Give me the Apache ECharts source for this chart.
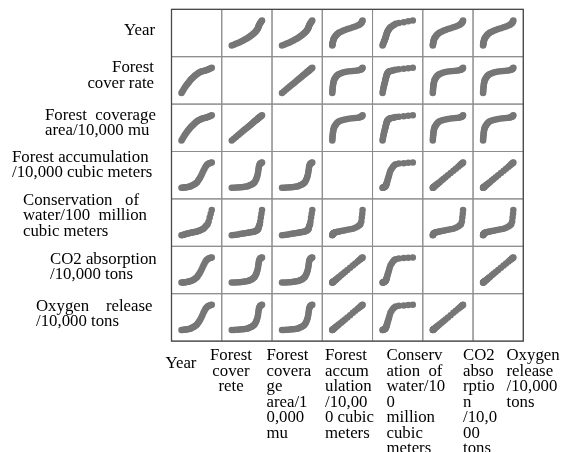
<!DOCTYPE html>
<html><head><meta charset="utf-8">
<script src="https://cdn.jsdelivr.net/npm/echarts@6/dist/echarts.min.js"></script>
<style>html,body{margin:0;padding:0;background:#fff}#c{width:569px;height:452px}</style>
</head><body><div id="c"></div>
<script>
const years = [1990,1991,1992,1993,1994,1995,1996,1997,1998,1999,2000,2001,2002,2003,2004,2005,2006,2007,2008,2009,2010,2011,2012,2013,2014,2015,2016,2017,2018,2019];
const forestCoverRate = [22.00,22.63,23.24,23.85,24.39,24.91,25.42,25.87,26.37,26.82,27.18,27.54,27.90,28.21,28.53,28.80,29.07,29.29,29.47,29.65,29.79,29.89,29.97,30.05,30.19,30.33,30.46,30.64,30.82,31.00];
const forestArea = [1100.0,1131.5,1162.0,1192.5,1219.5,1245.5,1271.0,1293.5,1318.5,1341.0,1359.0,1377.0,1395.0,1410.5,1426.5,1440.0,1453.5,1464.5,1473.5,1482.5,1489.5,1494.5,1498.5,1502.5,1509.5,1516.5,1523.0,1532.0,1541.0,1550.0];
const forestAccumulation = [8000,8024,8048,8078,8114,8150,8180,8240,8300,8378,8522,8642,8768,8930,9140,9350,9740,10100,10520,11000,11540,12080,12560,13040,13370,13580,13760,13850,13940,14000];
const waterConservation = [20.0,20.3,20.63,20.93,21.29,21.62,22.01,22.31,22.64,22.94,23.18,23.42,23.69,23.96,24.23,24.47,24.89,25.34,25.88,26.45,27.05,27.8,29.0,30.35,31.7,33.05,36.2,41.0,45.5,50.0];
const co2Absorption = [13040,13079,13118,13167,13226,13285,13333,13431,13529,13656,13891,14086,14292,14556,14898,15241,15876,16463,17148,17930,18810,19690,20473,21255,21793,22135,22429,22576,22722,22820];
const oxygenRelease = [9520,9549,9577,9613,9656,9699,9734,9806,9877,9970,10141,10284,10434,10627,10877,11127,11591,12019,12519,13090,13733,14375,14946,15518,15910,16160,16374,16482,16589,16660];

const rowLabels = ["Year","Forest\ncover rate","Forest  coverage\narea/10,000 mu","Forest accumulation\n/10,000 cubic meters","Conservation   of\nwater/100  million\ncubic meters","CO2 absorption\n/10,000 tons","Oxygen    release\n/10,000 tons"];
const colLabels = ["Year","Forest\ncover\nrete","Forest\ncovera\nge\narea/1\n0,000\nmu","Forest\naccum\nulation\n/10,00\n0 cubic\nmeters","Conserv\nation  of\nwater/10\n0\nmillion\ncubic\nmeters","CO2\nabso\nrptio\nn\n/10,0\n00\ntons","Oxygen\nrelease\n/10,000\ntons"];

const vars = [years, forestCoverRate, forestArea, forestAccumulation, waterConservation, co2Absorption, oxygenRelease];
const n = vars.length;
const L0 = 171.5, T0 = 9.3, CW = 50.26, CH = 47.4;
const FONT = '16.8px "Liberation Serif", "Times New Roman", serif';

function ext(a, p) { const mn = Math.min(...a), mx = Math.max(...a), r = mx - mn; return [mn - p * r, mx + p * r]; }

const grid = [], xAxis = [], yAxis = [], series = [];
for (let i = 0; i < n; i++) {
  for (let j = 0; j < n; j++) {
    const k = grid.length;
    grid.push({ left: L0 + j * CW, top: T0 + i * CH, width: CW, height: CH, show: true, borderColor: '#8c8c8c', borderWidth: 1, backgroundColor: 'transparent' });
    const ex = ext(vars[j], 0.33), ey = ext(vars[i], 0.44);
    xAxis.push({ gridIndex: k, type: 'value', min: ex[0], max: ex[1], show: false });
    yAxis.push({ gridIndex: k, type: 'value', min: ey[0], max: ey[1], show: false });
    if (i !== j) {
      series.push({ type: 'scatter', xAxisIndex: k, yAxisIndex: k, symbolSize: 6.5, silent: true,
        itemStyle: { color: '#767676', opacity: 1 },
        data: vars[j].map((v, t) => [v, vars[i][t]]) });
    }
  }
}
// outer frame
const kf = grid.length;
grid.push({ left: L0, top: T0, width: CW * n, height: CH * n, show: true, borderColor: '#4a4a4a', borderWidth: 1.3, backgroundColor: 'transparent' });
xAxis.push({ gridIndex: kf, type: 'value', show: false });
yAxis.push({ gridIndex: kf, type: 'value', show: false });

const rowLabelPos = [[155,'right',31],[154,'right',75.5],[45,'left',123],[12,'left',165],[23,'left',216],[50,'left',267],[36,'left',314]];
const colLabelPos = [[181,'center',356],[231,'center',348],[266.5,'left',348],[325,'left',348],[386.5,'left',348],[463,'left',348],[506.5,'left',348]];
const graphic = [];
rowLabels.forEach((s, i) => {
  const p = rowLabelPos[i];
  graphic.push({ type: 'text', x: p[0], y: p[2], silent: true, style: { text: s, font: FONT, fill: '#000', align: p[1], verticalAlign: 'middle', lineHeight: 15.5 } });
});
colLabels.forEach((s, j) => {
  const p = colLabelPos[j];
  graphic.push({ type: 'text', x: p[0], y: p[2], silent: true, style: { text: s, font: FONT, fill: '#000', align: p[1], verticalAlign: 'top', lineHeight: 15.5 } });
});

const chart = echarts.init(document.getElementById('c'), null, { renderer: 'canvas' });
chart.setOption({ animation: false, backgroundColor: '#fff', grid, xAxis, yAxis, series, graphic });
</script></body></html>
